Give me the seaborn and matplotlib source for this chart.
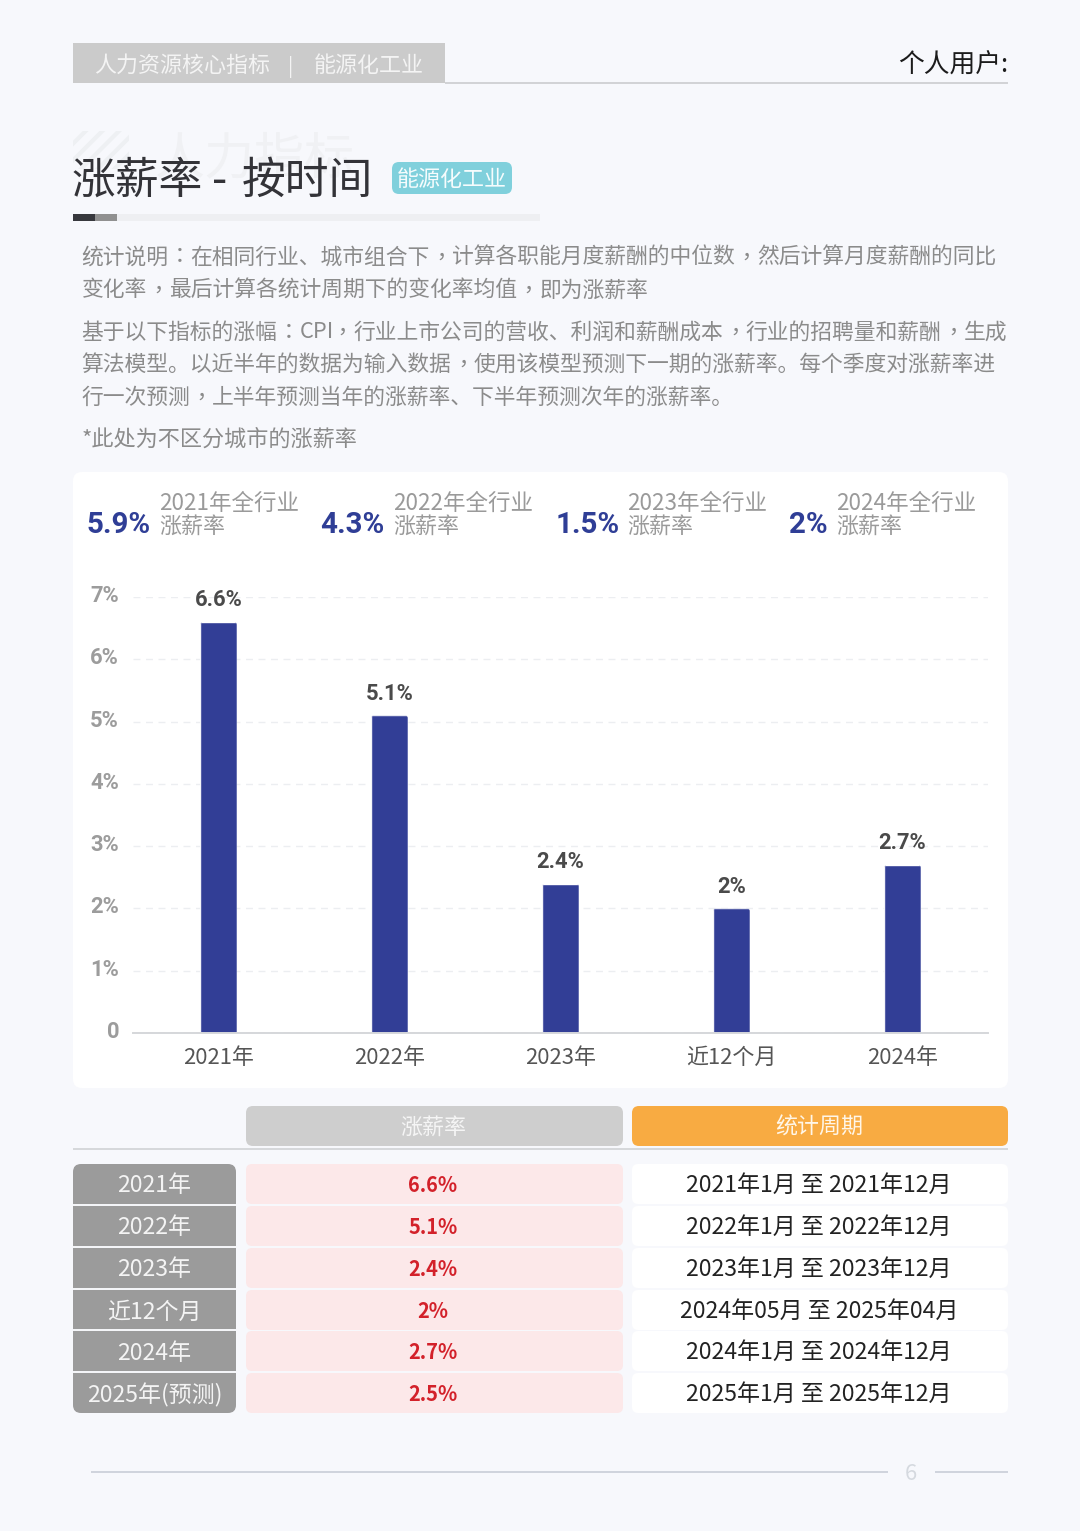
import re
import matplotlib
matplotlib.use("Agg")
import matplotlib.pyplot as plt
from matplotlib.patches import FancyBboxPatch, Rectangle
from matplotlib.transforms import ScaledTranslation
import seaborn as sns

sns.set_theme(style="white")
CJK = ["Noto Sans CJK SC", "DejaVu Sans"]
plt.rcParams["font.family"] = CJK
plt.rcParams["hatch.linewidth"] = 3.0

# ---------- data ----------
categories = ["2021年", "2022年", "2023年", "近12个月", "2024年"]
raises = [6.6, 5.1, 2.4, 2.0, 2.7]
bar_labels = ["6.6%", "5.1%", "2.4%", "2%", "2.7%"]
y_ticks = [0, 1, 2, 3, 4, 5, 6, 7]
y_tick_labels = ["0", "1%", "2%", "3%", "4%", "5%", "6%", "7%"]

stat_values = ["5.9%", "4.3%", "1.5%", "2%"]
stat_titles = ["2021年全行业", "2022年全行业", "2023年全行业", "2024年全行业"]
stat_sub = "涨薪率"

table_rows = ["2021年", "2022年", "2023年", "近12个月", "2024年", "2025年(预测)"]
table_rates = ["6.6%", "5.1%", "2.4%", "2%", "2.7%", "2.5%"]
table_periods = ["2021年1月 至 2021年12月", "2022年1月 至 2022年12月",
                 "2023年1月 至 2023年12月", "2024年05月 至 2025年04月",
                 "2024年1月 至 2024年12月", "2025年1月 至 2025年12月"]
table_headers = ["涨薪率", "统计周期"]

desc_lines = [
    "统计说明：在相同行业、城市组合下，计算各职能月度薪酬的中位数，然后计算月度薪酬的同比",
    "变化率，最后计算各统计周期下的变化率均值，即为涨薪率",
    "基于以下指标的涨幅：CPI，行业上市公司的营收、利润和薪酬成本，行业的招聘量和薪酬，生成",
    "算法模型。以近半年的数据为输入数据，使用该模型预测下一期的涨薪率。每个季度对涨薪率进",
    "行一次预测，上半年预测当年的涨薪率、下半年预测次年的涨薪率。",
    "*此处为不区分城市的涨薪率",
]

BG = "#f7f8fc"
W, H = 1080, 1531
fig = plt.figure(figsize=(W / 100, H / 100), dpi=100, facecolor=BG)

# page layer in pixel coordinates
pg = fig.add_axes([0, 0, 1, 1], zorder=0)
pg.set_xlim(0, W)
pg.set_ylim(H, 0)
pg.axis("off")


def px(p):
    return p * 72 / 100


def box(x0, y0, x1, y1, color, r=6, z=1):
    pg.add_patch(FancyBboxPatch((x0, y0), x1 - x0, y1 - y0,
                                boxstyle=f"round,pad=0,rounding_size={r}",
                                fc=color, ec="none", zorder=z))


def rect(x0, y0, x1, y1, color, z=1):
    pg.add_patch(Rectangle((x0, y0), x1 - x0, y1 - y0, fc=color, ec="none", zorder=z))


def txt(x, y, s, size, color, ha="left", weight="normal", z=5, **kw):
    return pg.text(x, y, s, fontsize=px(size), color=color, ha=ha, va="center_baseline",
                   fontweight=weight, zorder=z, **kw)


def desc_text(x, y, line, size, color):
    """Draw a body line; ，and ：use the TC font, whose signs sit centred."""
    for seg in re.split(r"([，：]|[A-Za-z]+)", line):
        if not seg:
            continue
        if seg in "，：":
            txt(x, y, seg, size, color, weight="light",
                family=["Noto Sans CJK TC", "DejaVu Sans"])
            x += size
        elif seg.isascii() and seg.isalpha():
            t = txt(x, y, seg, size, color, weight="light")
            bb = t.get_window_extent(fig.canvas.get_renderer())
            x += bb.width - 2
        else:
            txt(x, y, seg, size, color, weight="light")
            x += size * len(seg)


# header
rect(73, 43, 445, 83, "#cbcbcb")
rect(445, 82, 1008, 84, "#d2d3d6")
txt(94, 63.5, "人力资源核心指标", 22, "#f4f4f4", weight="light")
txt(291, 63.5, "|", 20, "#f4f4f4", ha="center")
txt(314, 63.5, "能源化工业", 22, "#f4f4f4", weight="light")
txt(1008, 63, "个人用户:", 25.8, "#1c1c1c", ha="right")

# watermark + title
pg.add_patch(Rectangle((73, 131), 56, 38, fc="none", ec="#eef0f3", hatch="//", lw=0, zorder=1))
txt(155, 153, "人力指标", 50, "#f0f1f4", z=2, weight="light")
txt(71.5, 176, "涨薪率", 43.8, "#333338")
txt(220, 176, "-", 43.8, "#333338", ha="center")
txt(241.5, 176, "按时间", 43.8, "#333338")
box(392, 162, 512, 194, "#80d0dc", r=7)
txt(452, 178, "能源化工业", 22, "#f6fcfd", ha="center", weight="light")
rect(73, 214, 540, 221, "#eeeff2")
rect(73, 214, 95, 221, "#37383d", z=2)
rect(95, 214, 117, 221, "#909090", z=2)

# description
desc_y = [255, 288, 330, 362, 395]
for line, y in zip(desc_lines[:5], desc_y):
    desc_text(81.5, y, line, 21.8, "#8b8b8b")
txt(81.5, 437.5, desc_lines[5], 22.15, "#8b8b8b", weight="light")

# card
box(73, 472, 1008, 1088, "#ffffff", r=9)

# stats
stat_vx = [86.5, 320.5, 555.5, 788.5]
stat_tx = [159, 393, 627, 836]
for v, t, vx, tx in zip(stat_values, stat_titles, stat_vx, stat_tx):
    txt(vx, 522, v, 29.5, "#2f3e96", weight="bold", family=["Roboto", "DejaVu Sans"])
    txt(tx, 501, t, 22.5, "#9a9a9a", weight="light")
    txt(tx, 524, stat_sub, 22, "#9a9a9a", weight="light")

# chart
ax = fig.add_axes([133 / W, 1 - 1033 / H, 855 / W, 436 / H], zorder=2)
ax.patch.set_alpha(0)
sns.barplot(x=categories, y=raises, ax=ax, color="#323e96", saturation=1, width=0.215)
ax.set_xlim(-0.5, 4.5)
ax.set_ylim(0, 7)
ax.set_yticks(y_ticks)
ax.set_yticklabels(y_tick_labels, fontsize=px(22), fontweight="bold", color="#9c9c9c",
                   family=["Roboto", "DejaVu Sans"])
ax.tick_params(axis="y", length=0, pad=10)
ax.tick_params(axis="x", length=0, pad=9.8)
for lab in ax.get_xticklabels():
    lab.set_fontsize(px(22))
    lab.set_color("#555555")
up = ScaledTranslation(0, 3.5 / 100, fig.dpi_scale_trans)
for lab in ax.get_yticklabels():
    lab.set_transform(lab.get_transform() + up)
ax.grid(axis="y", color="#eceef1", linestyle=(0, (5, 4)), linewidth=1)
ax.set_axisbelow(True)
for s in ["top", "left", "right"]:
    ax.spines[s].set_visible(False)
ax.spines["bottom"].set_color("#d5d7da")
ax.spines["bottom"].set_linewidth(1.4)
ax.bar_label(ax.containers[0], labels=bar_labels, padding=7.5, fontsize=px(22),
             fontweight="bold", color="#4a4a4a", family=["Roboto", "DejaVu Sans"])
# slightly rounded bar tops, clipped from the bars that seaborn drew
for bar in ax.containers[0]:
    clip = FancyBboxPatch((bar.get_x(), -0.5), bar.get_width(), bar.get_height() + 0.5,
                          boxstyle=f"round,pad=0,rounding_size={3 / 171}",
                          mutation_aspect=171 / 62.3, transform=ax.transData)
    bar.set_clip_path(clip)

# table headers
box(246, 1106, 623, 1146, "#cecece", r=7)
box(632, 1106, 1008, 1146, "#f8ab42", r=7)
txt(433, 1125.5, table_headers[0], 22, "#f5f5f5", ha="center", weight="light")
txt(819, 1125.5, table_headers[1], 22, "#fff6e8", ha="center")
rect(73, 1148, 1008, 1150, "#d6d8db")

# table body
row_top = [1164, 1206, 1248, 1290, 1331, 1373]
row_h = 40
box(73, 1164, 236, 1413, "#9b9b9b", r=8)
for y in row_top[1:]:
    rect(73, y - 2, 236, y, "#f4f5f8", z=2)
for name, rate, per, y in zip(table_rows, table_rates, table_periods, row_top):
    c = y + row_h / 2
    box(246, y, 623, y + row_h, "#fce8e9", r=6)
    box(632, y, 1008, y + row_h, "#ffffff", r=6)
    txt(154.5, c - 0.5, name, 23, "#f4f4f4", ha="center", weight="light")
    txt(433, c - 0.5, rate, 20, "#d3212a", ha="center", weight="bold")
    txt(819, c - 1, per, 23, "#222222", ha="center")

# footer
rect(91, 1471, 888, 1473, "#d0d4dd")
rect(935, 1471, 1008, 1473, "#d0d4dd")
txt(911, 1472, "6", 22, "#d5d9df", ha="center")

fig.savefig("out.png", dpi=100, facecolor=BG)
